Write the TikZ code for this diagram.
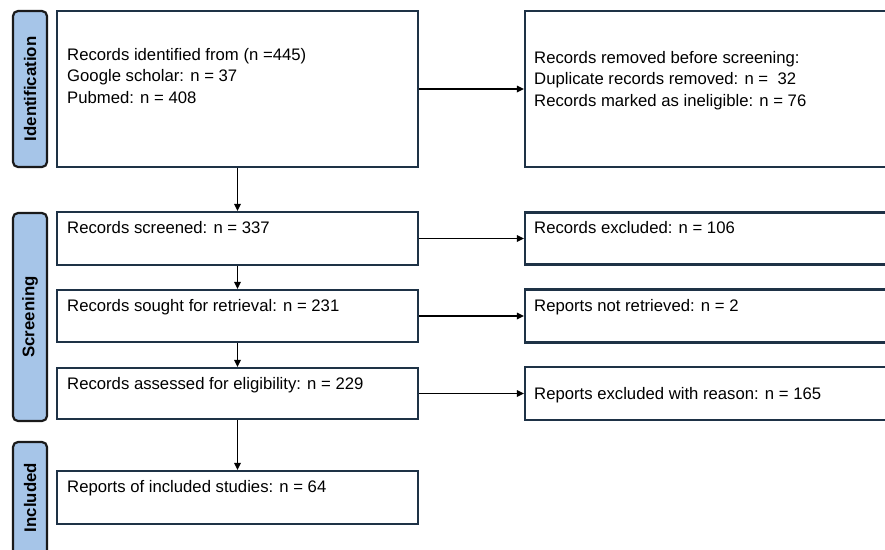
\documentclass[tikz,border=0pt]{standalone}
\usepackage{fontspec}
\setmainfont{Liberation Sans}
\usetikzlibrary{arrows.meta}
\definecolor{boxline}{HTML}{1E3246}
\definecolor{barfill}{HTML}{A6C5E8}
\definecolor{barline}{HTML}{1A1A1A}

\begin{document}
\begin{tikzpicture}[x=1pt, y=-1pt,
    box/.style={draw=boxline, line width=2.2pt, fill=white, inner sep=0pt},
    phase/.style={draw=barline, line width=2.2pt, fill=barfill, rounded corners=5pt,
        minimum width=34pt, inner sep=0pt},
    phasetxt/.style={rotate=90, font=\fontsize{16.8}{20}\selectfont\bfseries},
    txt/.style={anchor=base west, inner sep=0pt, align=left,
        font=\fontsize{16.7}{21.7}\selectfont},
    flow/.style={line width=1.6pt, -{Triangle[length=7pt, width=6.5pt]}}]
        \useasboundingbox (0,0) rectangle (885,549);
        \clip (0,0) rectangle (885,549);

        % Phase bars
        \node[phase, minimum height=156pt] (idbar) at (30,89) {};
        \node[phasetxt] (idlab) at (idbar.center) {Identification};
        \node[phase, minimum height=208pt] (scbar) at (30,317) {};
        \node[phasetxt] (sclab) at (scbar.center) {Screening};
        \node[phase, minimum height=114pt] (inbar) at (30,499) {};
        \node[phasetxt] (inlab) at (30,497.5) {Included};

        % Main column
        \node[box, minimum width=361pt, minimum height=156pt] (ident) at (237.5,89) {};
        \node[txt] (identtxt) at (67,103.5) {Records identified from (n =445)\\Google scholar: n = 37\\Pubmed: n = 408};

        \node[box, minimum width=361pt, minimum height=53pt] (screen) at (237.5,238.5) {};
        \node[txt] (screentxt) at (67,233) {Records screened: n = 337};

        \node[box, minimum width=361pt, minimum height=52pt] (sought) at (237.5,316) {};
        \node[txt] (soughttxt) at (67,311) {Records sought for retrieval: n = 231};

        \node[box, minimum width=361pt, minimum height=51pt] (assess) at (237.5,393.5) {};
        \node[txt] (assesstxt) at (67,389) {Records assessed for eligibility: n = 229};

        \node[box, minimum width=361pt, minimum height=53pt] (incl) at (237.5,497.5) {};
        \node[txt] (incltxt) at (67,492) {Reports of included studies: n = 64};

        % Side column
        \node[box, minimum width=380pt, minimum height=156pt] (removed) at (715,89) {};
        \node[txt] (removedtxt) at (534,106.5) {Records removed before screening:\\Duplicate records removed: n = ~32\\Records marked as ineligible: n = 76};

        \node[box, minimum width=380pt, minimum height=52pt] (excl) at (715,238.5) {};
        \node[txt] (excltxt) at (534,233) {Records excluded: n = 106};

        \node[box, minimum width=380pt, minimum height=53pt] (notret) at (715,316) {};
        \node[txt] (notrettxt) at (534,311) {Reports not retrieved: n = 2};

        \node[box, minimum width=380pt, minimum height=53pt] (reason) at (715,393.5) {};
        \node[txt] (reasontxt) at (534,399) {Reports excluded with reason: n = 165};

        % Arrows
        \draw[flow] (ident.south) -- (screen.north);
        \draw[flow] (screen.south) -- (sought.north);
        \draw[flow] (sought.south) -- (assess.north);
        \draw[flow] (assess.south) -- (incl.north);
        \draw[flow] (ident.east) -- (removed.west);
        \draw[flow] (screen.east) -- (excl.west);
        \draw[flow] (sought.east) -- (notret.west);
        \draw[flow] (assess.east) -- (reason.west);

    \end{tikzpicture}
\end{document}
